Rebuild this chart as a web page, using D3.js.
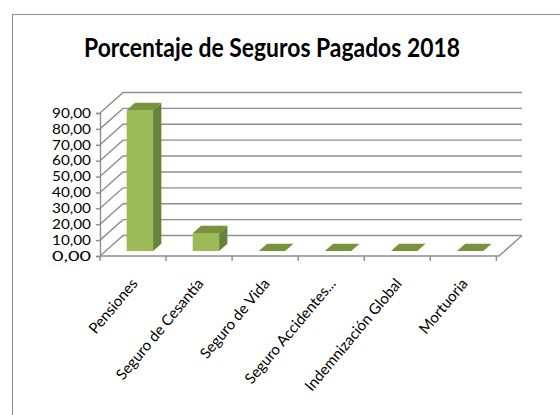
<!DOCTYPE html>
<html>
<head>
<meta charset="utf-8">
<script src="https://cdn.jsdelivr.net/npm/d3@7"></script>
<style>
  body { margin: 0; background: #fff; }
  text { font-family: Lato, "Open Sans", sans-serif; fill: #000; }
</style>
</head>
<body>
<div id="chart"></div>
<script>
// data
const categories = ["Pensiones", "Seguro de Cesantía", "Seguro de Vida",
                    "Seguro Accidentes...", "Indemnización Global", "Mortuoria"];
const values = [88.7, 11.3, 0, 0, 0, 0];
const yMax = 90;
const titleText = "Porcentaje de Seguros Pagados 2018";

const W = 560, H = 415;
// front plane of the 3d plot area
const plot = {left: 100, right: 499, top: 113, bottom: 256};
// depth of the walls / floor
const depth = {dx: 23, dy: -20.5};
// where the bars sit inside that depth
const f1 = 0.24, f2 = 0.6;

const x = d3.scaleBand().domain(categories)
            .range([plot.left, plot.right])
            .paddingInner(0.6).paddingOuter(0.32);
const y = d3.scaleLinear().domain([0, yMax]).range([plot.bottom, plot.top]);

const svg = d3.select("#chart").append("svg")
              .attr("width", W)
              .attr("height", H);

// chart border
svg.append("rect")
   .attr("x", 12.5).attr("y", 14.5)
   .attr("width", 600).attr("height", 500)
   .attr("fill", "none")
   .attr("stroke", "#8c8c8c")
   .attr("stroke-width", 1);

// title
svg.append("text")
   .attr("x", 272).attr("y", 57)
   .attr("text-anchor", "middle")
   .attr("font-size", 26)
   .attr("font-weight", "bold")
   .attr("textLength", 376)
   .attr("lengthAdjust", "spacingAndGlyphs")
   .text(titleText);

const gridColor = "#8e8e8e";
const ticks = y.ticks(10);

// back wall gridlines (side wall diagonal + back line)
svg.append("g").selectAll("path")
   .data(ticks)
   .join("path")
   .attr("d", t => {
     const yy = y(t);
     return "M" + plot.left + "," + yy +
            "L" + (plot.left + depth.dx) + "," + (yy + depth.dy) +
            "L" + (plot.right + depth.dx) + "," + (yy + depth.dy);
   })
   .attr("fill", "none")
   .attr("stroke", gridColor)
   .attr("stroke-width", 1.4);

// floor front and right edges
svg.append("path")
   .attr("d", "M" + plot.left + "," + plot.bottom +
              "L" + plot.right + "," + plot.bottom +
              "L" + (plot.right + depth.dx) + "," + (plot.bottom + depth.dy))
   .attr("fill", "none")
   .attr("stroke", gridColor)
   .attr("stroke-width", 1.4);

// bars
const ddx = (f2 - f1) * depth.dx, ddy = (f2 - f1) * depth.dy;
const bars = svg.append("g").selectAll("g")
                .data(values.map((v, i) => ({cat: categories[i], v: v})))
                .join("g");

// front face
bars.filter(d => d.v > 0).append("rect")
    .attr("x", d => x(d.cat) + f1 * depth.dx)
    .attr("y", d => y(d.v) + f1 * depth.dy)
    .attr("width", x.bandwidth())
    .attr("height", d => y(0) - y(d.v))
    .attr("fill", "#9bbb59");

// side face
bars.filter(d => d.v > 0).append("path")
    .attr("d", d => {
      const xr = x(d.cat) + f1 * depth.dx + x.bandwidth();
      const yt = y(d.v) + f1 * depth.dy, yb = y(0) + f1 * depth.dy;
      return "M" + xr + "," + yt + "L" + (xr + ddx) + "," + (yt + ddy) +
             "L" + (xr + ddx) + "," + (yb + ddy) + "L" + xr + "," + yb + "Z";
    })
    .attr("fill", "#67823a");

// top face
bars.append("path")
    .attr("d", d => {
      const xl = x(d.cat) + f1 * depth.dx, xr = xl + x.bandwidth();
      const yt = y(d.v) + f1 * depth.dy;
      return "M" + xl + "," + yt + "L" + xr + "," + yt +
             "L" + (xr + ddx) + "," + (yt + ddy) +
             "L" + (xl + ddx) + "," + (yt + ddy) + "Z";
    })
    .attr("fill", "#77933c");

// y axis
const yAxis = svg.append("g")
   .attr("transform", "translate(" + plot.left + ",0)")
   .call(d3.axisLeft(y).tickValues(ticks).tickSize(4).tickPadding(5)
           .tickFormat(d => d3.format(".2f")(d).replace(".", ",")));
yAxis.select(".domain").attr("stroke", gridColor).attr("stroke-width", 1.4);
yAxis.selectAll(".tick line").attr("stroke", gridColor).attr("stroke-width", 1.4);
yAxis.selectAll(".tick text")
     .attr("font-size", 13.5)
     .attr("textLength", 39)
     .attr("lengthAdjust", "spacingAndGlyphs")
     .style("font-family", "Lato, sans-serif");

// x axis ticks at category boundaries
const step = x.step();
svg.append("g").selectAll("line")
   .data(d3.range(categories.length + 1))
   .join("line")
   .attr("x1", i => plot.left + i * step)
   .attr("x2", i => plot.left + i * step)
   .attr("y1", plot.bottom)
   .attr("y2", plot.bottom + 5)
   .attr("stroke", gridColor)
   .attr("stroke-width", 1.4);

// category labels, rotated
svg.append("g").selectAll("text")
   .data(categories)
   .join("text")
   .attr("transform", d => "translate(" + (x(d) + x.bandwidth() / 2 + 4) + "," +
                           (plot.bottom + 28) + ")rotate(-50)")
   .attr("text-anchor", "end")
   .attr("font-size", 15)
   .text(d => d);
</script>
</body>
</html>
